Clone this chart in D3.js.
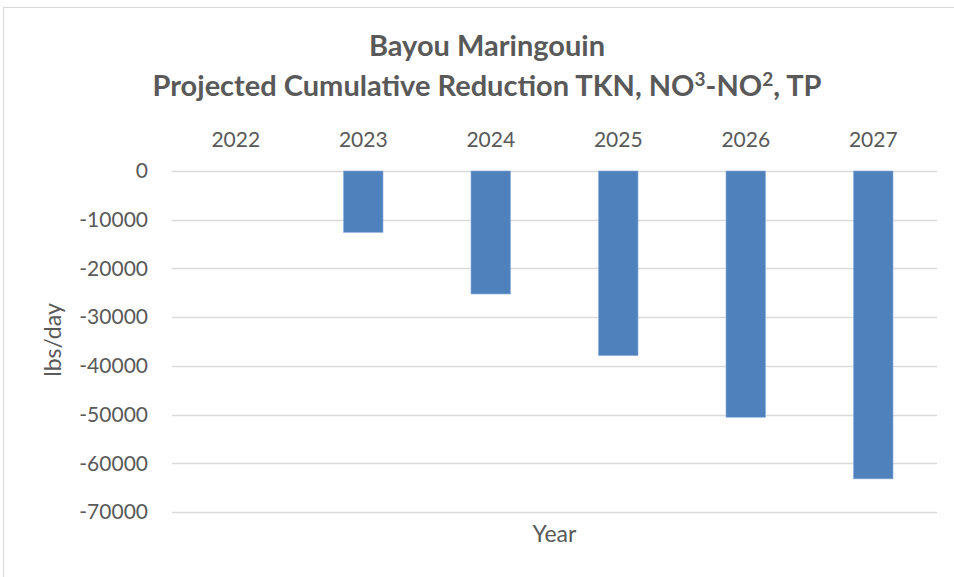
<!DOCTYPE html>
<html>
<head>
<meta charset="utf-8">
<script src="https://cdn.jsdelivr.net/npm/d3@7"></script>
<style>
  body { margin: 0; background: #fff; }
  svg { font-family: Lato, "Open Sans", sans-serif; }
</style>
</head>
<body>
<svg id="chart" width="954" height="577"></svg>
<script>
// data
const years = ["2022", "2023", "2024", "2025", "2026", "2027"];
const reduction = [0, -12600, -25250, -37900, -50550, -63200];
const yTicks = [0, -10000, -20000, -30000, -40000, -50000, -60000, -70000];
const titleLine1 = "Bayou Maringouin";
// second title line as [text, superscript?] pieces
const titleLine2 = [["Projected Cumulative Reduction TKN, NO", false], ["3", true], ["-NO", false], ["2", true], [", TP", false]];

const svg = d3.select("#chart");
const margin = { top: 171, right: 17, bottom: 65, left: 172 };
const width = 954 - margin.left - margin.right;
const textColor = "#595959";

// chart frame
svg.append("rect")
  .attr("x", 3.5).attr("y", 7.5)
  .attr("width", 960).attr("height", 600)
  .attr("fill", "#fff")
  .attr("stroke", "#d9d9d9");

const g = svg.append("g").attr("transform", `translate(${margin.left},${margin.top})`);

const x = d3.scaleBand().domain(years).range([0, width]).paddingInner(0.69).paddingOuter(0.345);
const xCenter = d3.scaleBand().domain(years).range([0, width]);
const y = d3.scaleLinear().domain([0, -70000]).range([0, 341]);

// gridlines
g.append("g")
  .selectAll("line")
  .data(yTicks)
  .join("line")
  .attr("x1", 0).attr("x2", width)
  .attr("y1", d => Math.round(y(d)) + 0.5)
  .attr("y2", d => Math.round(y(d)) + 0.5)
  .attr("stroke", "#d9d9d9")
  .attr("stroke-width", 1.5);

// bars
g.append("g")
  .selectAll("rect")
  .data(years.map((yr, i) => ({ yr, v: reduction[i] })))
  .join("rect")
  .attr("x", d => x(d.yr))
  .attr("y", y(0))
  .attr("width", x.bandwidth())
  .attr("height", d => y(d.v) - y(0))
  .attr("fill", "#4f81bd")
  .attr("stroke", "#8eb0dc")
  .attr("stroke-width", 0.6);

// y tick labels
const yAxis = g.append("g")
  .call(d3.axisLeft(y).tickValues(yTicks).tickSize(0).tickPadding(24).tickFormat(d => String(d)));
yAxis.select(".domain").remove();
yAxis.selectAll("text")
  .attr("fill", textColor)
  .style("font-size", "21px")
  .style("font-family", "Lato, 'Open Sans', sans-serif");

// x category labels (on top)
const xAxis = g.append("g")
  .call(d3.axisTop(xCenter).tickSize(0).tickPadding(0));
xAxis.select(".domain").remove();
xAxis.selectAll("text")
  .attr("fill", textColor)
  .attr("dy", null)
  .attr("y", -24)
  .style("font-size", "21px")
  .style("font-family", "Lato, 'Open Sans', sans-serif");

// axis titles
svg.append("text")
  .attr("x", margin.left + width / 2)
  .attr("y", 542)
  .attr("text-anchor", "middle")
  .attr("fill", textColor)
  .style("font-size", "23px")
  .text("Year");

svg.append("text")
  .attr("transform", `translate(61,340) rotate(-90)`)
  .attr("text-anchor", "middle")
  .attr("fill", textColor)
  .style("font-size", "23px")
  .text("lbs/day");

// title
const title = svg.append("g")
  .attr("fill", textColor)
  .style("font-size", "29px")
  .style("font-weight", "bold")
  .attr("text-anchor", "middle");

title.append("text")
  .attr("x", 487)
  .attr("y", 56)
  .text(titleLine1);

title.append("text")
  .attr("x", 487)
  .attr("y", 96)
  .selectAll("tspan")
  .data(titleLine2)
  .join("tspan")
  .style("font-size", d => d[1] ? "19px" : null)
  .attr("dy", (d, i) => d[1] ? -10 : (i > 0 && titleLine2[i - 1][1] ? 10 : null))
  .text(d => d[0]);
</script>
</body>
</html>
